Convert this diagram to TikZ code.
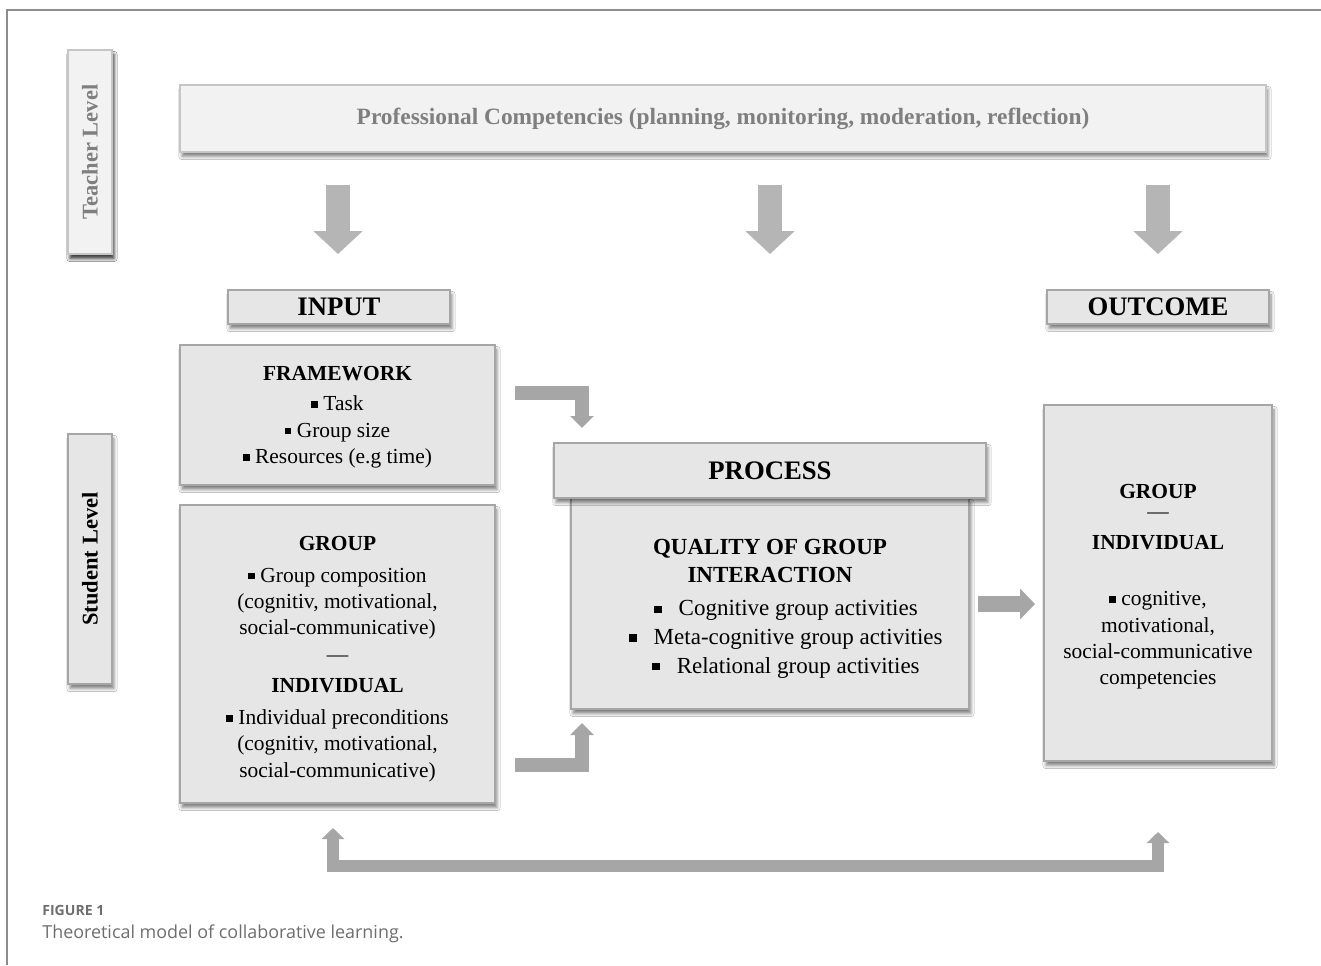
\documentclass[tikz,border=0pt]{standalone}
\usepackage{fontspec}
\setmainfont{Liberation Serif}
\newfontfamily\capfont{Open Sans}
\usetikzlibrary{arrows.meta,shadows.blur}

\definecolor{boxfill}{HTML}{E6E6E6}
\definecolor{boxline}{HTML}{A6A6A6}
\definecolor{palefill}{HTML}{F2F2F2}
\definecolor{paleline}{HTML}{C6C6C6}
\definecolor{paletext}{HTML}{7F7F7F}
\definecolor{arrowgray}{HTML}{A6A6A6}
\definecolor{downgray}{HTML}{B5B5B5}
\definecolor{capgray}{HTML}{6E6E6E}
\definecolor{framegray}{HTML}{8C8C8C}

% small square bullet
\newcommand{\bul}[1][3.8pt]{\rule[1.6pt]{#1}{#1}}

\tikzset{
	box/.style={draw=boxline, fill=boxfill, line width=0.05cm, align=center, inner sep=0pt,
		blur shadow={shadow xshift=0.04cm, shadow yshift=-0.09cm, shadow opacity=50, shadow blur steps=6}},
	palebox/.style={box, draw=paleline, fill=palefill, text=paletext},
	title/.style={font=\bfseries\fontsize{15.2}{18}\selectfont},
	levelbox/.style={box, rotate=90, minimum height=0.88cm, font=\bfseries\fontsize{12.8}{15}\selectfont},
	body/.style={font=\fontsize{12.2}{15}\selectfont},
	downarrow/.style={draw=downgray, line width=0.48cm, -{Triangle[width=0.96cm,length=0.46cm]}},
	bentarrow/.style={draw=arrowgray, line width=0.28cm, line join=miter, -{Triangle[width=0.46cm,length=0.24cm]}},
	rightarrow/.style={draw=arrowgray, line width=0.32cm, -{Triangle[width=0.6cm,length=0.3cm]}},
	looparrow/.style={draw=arrowgray, line width=0.24cm, line join=miter, {Triangle[width=0.44cm,length=0.22cm]}-{Triangle[width=0.44cm,length=0.22cm]}}
}

\begin{document}
\begin{tikzpicture}[x=0.02cm,y=-0.02cm]
	\useasboundingbox[fill=white] (0,0) rectangle (1321,965);
	\draw[framegray, line width=0.03cm] (1321,10) -- (7,10) -- (7,965);
	
	% levels
	\node[levelbox, palebox, minimum width=4.08cm] (teacher) at (90,152) {Teacher Level};
	\node[levelbox, minimum width=5cm] (student) at (90,559) {Student Level};
	
	\node[palebox, minimum width=21.72cm, minimum height=1.34cm, font=\bfseries\fontsize{13.3}{16}\selectfont] (prof) at (723,118.5) {Professional Competencies (planning, monitoring, moderation, reflection)};
	
	\node[box, title, minimum width=4.44cm, minimum height=0.68cm] (input) at (339,307) {INPUT};
	\node[box, title, minimum width=4.44cm, minimum height=0.68cm] (outcome) at (1158,307) {OUTCOME};
	
	\node[box, body, minimum width=6.3cm, minimum height=2.8cm] (framework) at (337.5,415) {\mbox{}\\[-4.6pt]
		\textbf{FRAMEWORK}\\[0.09cm]
		\bul\ Task\\
		\bul\ Group size\\
		\bul\ Resources (e.g time)};
	
	\node[box, body, minimum width=6.3cm, minimum height=5.96cm] (group) at (337.5,654) {\mbox{}\\[-1.2pt]
		\textbf{GROUP}\\[0.1cm]
		\bul\ Group composition\\
		(cognitiv, motivational,\\
		social-communicative)\\
		---\\[0.1cm]
		\textbf{INDIVIDUAL}\\[0.11cm]
		\bul\ Individual preconditions\\
		(cognitiv, motivational,\\
		social-communicative)};
	
	\node[box, body, minimum width=7.96cm, minimum height=4.22cm, font=\fontsize{13.1}{16.3}\selectfont] (quality) at (770,603.5) {\mbox{}\\[-1.9pt]
		\textbf{QUALITY OF GROUP}\\
		\textbf{INTERACTION}\\[0.09cm]
		\hspace*{0.64cm}\bul[4.2pt]\hspace{0.34cm}Cognitive group activities\\
		\hspace*{0.64cm}\bul[4.2pt]\hspace{0.34cm}Meta-cognitive group activities\\
		\hspace*{0.64cm}\bul[4.2pt]\hspace{0.34cm}Relational group activities};
	\node[box, title, minimum width=8.64cm, minimum height=1.1cm] (process) at (770,470.5) {PROCESS};
	
	\node[box, body, minimum width=4.56cm, minimum height=7.12cm] (result) at (1158,583) {\mbox{}\\[-2.4pt]
		\textbf{GROUP}\\[-0.13cm]
		---\\[0.09cm]
		\textbf{INDIVIDUAL}\\[0.6cm]
		\bul\ cognitive,\\
		motivational,\\
		social-communicative\\
		competencies};
	
	% arrow ends
	\coordinate (d1) at (338,185);
	\coordinate (d1e) at (338,254);
	\coordinate (d2) at (770,185);
	\coordinate (d2e) at (770,254);
	\coordinate (d3) at (1158,185);
	\coordinate (d3e) at (1158,254);
	\coordinate (fa) at (515,393);
	\coordinate (fb) at (582,428);
	\coordinate (ga) at (515,765);
	\coordinate (gb) at (582,723);
	\coordinate (pa) at (978,604);
	\coordinate (pb) at (1035,604);
	\coordinate (la) at (333,828);
	\coordinate (bar) at (745,866);
	\coordinate (lb) at (1158,832);
	
	\draw[downarrow] (d1) -- (d1e);
	\draw[downarrow] (d2) -- (d2e);
	\draw[downarrow] (d3) -- (d3e);
	\draw[bentarrow] (fa) -| (fb);
	\draw[bentarrow] (ga) -| (gb);
	\draw[rightarrow] (pa) -- (pb);
	\draw[looparrow] (la) |- (bar) -| (lb);
	
	% caption
	\node[anchor=base west, inner sep=0pt, text=capgray, font=\capfont\bfseries\fontsize{8}{10}\selectfont] (fig) at (42,915) {FIGURE 1};
	\node[anchor=base west, inner sep=0pt, text=capgray, font=\capfont\fontsize{10.2}{12}\selectfont] (cap) at (42,938) {Theoretical model of collaborative learning.};
\end{tikzpicture}
\end{document}
